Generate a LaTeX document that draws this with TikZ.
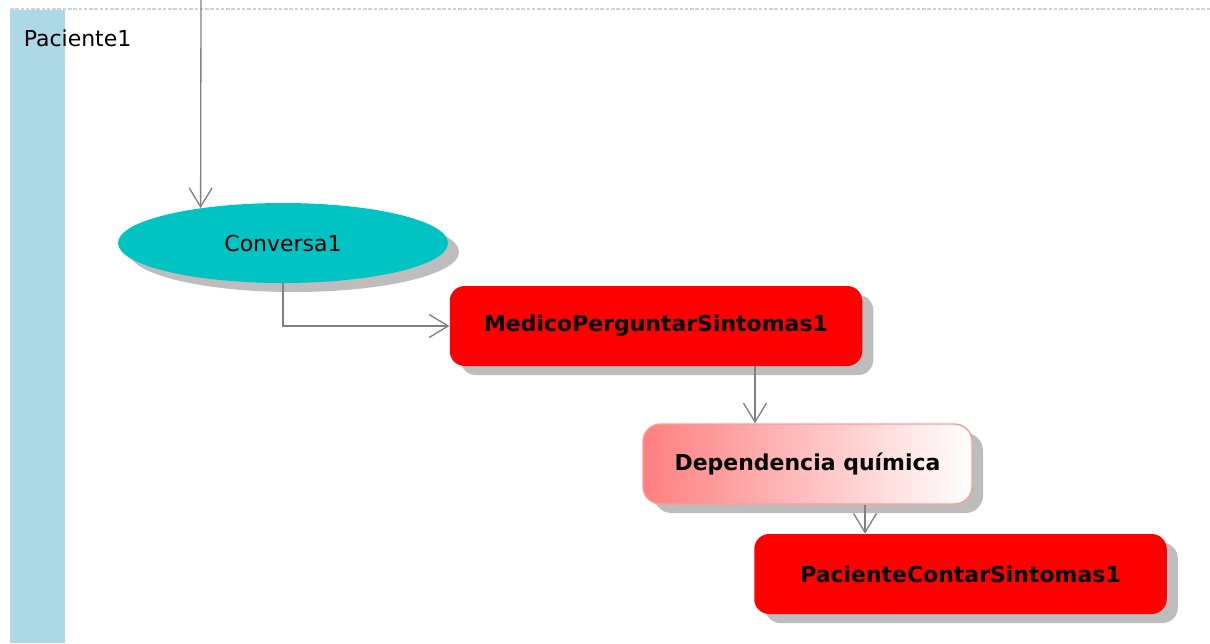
\documentclass[tikz,border=0pt]{standalone}
\usepackage{fontspec}
\setmainfont{DejaVu Sans}
\usepackage{xcolor}
\usepackage{tikz}
\usetikzlibrary{shapes.geometric,arrows.meta,positioning,calc,shadows}
\definecolor{laneblue}{HTML}{ADD8E6}
\definecolor{convcyan}{HTML}{00C4C4}
\definecolor{actred}{HTML}{FF0000}
\definecolor{deppink}{HTML}{FF7F7F}
\definecolor{depedge}{HTML}{FF9A9A}
\definecolor{shadowgray}{HTML}{BDBDBD}
\definecolor{arrgray}{HTML}{808080}
\tikzset{
  ad_shadow/.style={
    drop shadow={shadow xshift=0.22cm, shadow yshift=-0.18cm,
      fill=shadowgray, opacity=1}
  },
  ad_obj/.style={
    ellipse, fill=convcyan, ad_shadow,
    minimum width=6.6cm, minimum height=1.6cm,
    text centered, font=\fontsize{12.5}{14}\selectfont
  },
  ad_act/.style={
    rectangle, rounded corners=0.3cm, fill=actred, ad_shadow,
    minimum width=8.25cm, minimum height=1.6cm,
    text centered, font=\fontsize{12.5}{14}\selectfont\bfseries
  },
  ad_dep/.style={
    rectangle, rounded corners=0.35cm, draw=depedge, thick,
    left color=deppink, right color=white, ad_shadow,
    minimum width=6.58cm, minimum height=1.6cm,
    text centered, font=\fontsize{12.5}{14}\selectfont\bfseries
  },
  ad_arr/.style={-{Straight Barb[length=0.38cm,width=0.46cm]}, draw=arrgray, line width=0.75pt},
}

\begin{document}
\begin{tikzpicture}
\useasboundingbox (0,0) rectangle (24.2,-12.86);

% Swimlane
\fill[laneblue] (0.2,-0.2) rectangle (1.3,-12.86);
\draw[gray!35, line width=0.6pt, dash pattern=on 2pt off 1pt] (0.2,-0.18) -- (24.2,-0.18);
\node[anchor=west, inner sep=0pt, font=\fontsize{12.5}{14}\selectfont] (lane) at (0.47,-0.76) {Paciente1};

\node[ad_obj] (conv)    at (5.66,-4.86)  {Conversa1};
\node[ad_act] (medico)  at (13.12,-6.52) {MedicoPerguntarSintomas1};
\node[ad_dep] (dep)     at (16.15,-9.28) {Dependencia química};
\node[ad_act] (contar)  at (19.21,-11.48) {PacienteContarSintomas1};

\coordinate (start) at (4.02,0);

% Main flow
\draw[ad_arr] (start) -- (conv.157);
\draw[ad_arr] (conv.south) |- (medico.west);
\draw[ad_arr] ([xshift=1.98cm]medico.south) -- ([xshift=1.98cm]medico.south |- dep.north);
\draw[ad_arr] ([xshift=1.15cm]dep.south) -- ([xshift=1.15cm]dep.south |- contar.north);

\end{tikzpicture}
\end{document}
